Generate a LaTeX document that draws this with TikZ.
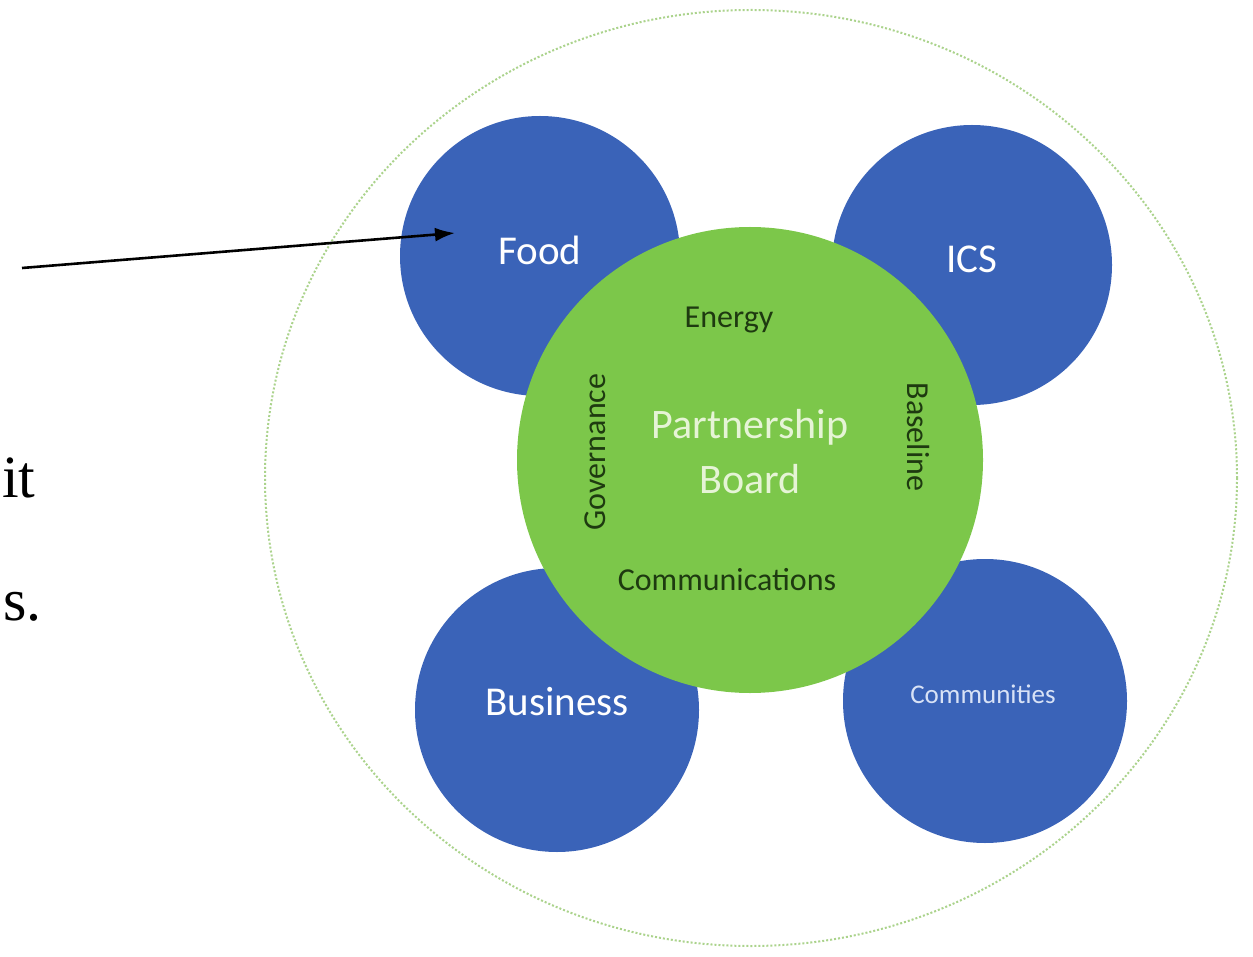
\documentclass[tikz,border=0pt]{standalone}
\usepackage{fontspec}
\setmainfont{Liberation Serif}
\newfontfamily\calfam{Carlito}
\usetikzlibrary{arrows.meta}
\definecolor{cblue}{HTML}{3A63B8}
\definecolor{cgreen}{HTML}{7CC74A}
\definecolor{dgreen}{HTML}{1E3A10}
\definecolor{lgreen}{HTML}{E6F4D6}
\definecolor{lblue}{HTML}{D8E2F6}
\definecolor{ring}{HTML}{ABD38C}
\begin{document}
\begin{tikzpicture}[x=1pt,y=-1pt,
  topic/.style={circle,fill=cblue,minimum size=#1,inner sep=0pt},
  board/.style={circle,fill=cgreen,minimum size=466pt,inner sep=0pt},
  wlabel/.style={font=\calfam\fontsize{41}{44}\selectfont,text=white},
  glabel/.style={font=\calfam\fontsize{32}{34}\selectfont,text=dgreen},
  ]
\useasboundingbox (0,0) rectangle (1253,957);
\clip (0,0) rectangle (1253,957);
% outer dotted ring
\draw[ring,line width=2pt,dotted] (751,478) ellipse [x radius=486, y radius=468];
% blue circles
\node[topic=280pt] (food) at (540,256) {};
\node[topic=280pt] (ics) at (972,265) {};
\node[topic=284pt] (business) at (557,710) {};
\node[topic=284pt] (communities) at (985,701) {};
% green board
\node[board] (board) at (750,460) {};
% labels
\node[wlabel] (tfood) at (540,250) {Food};
\node[wlabel] (tics) at (972,259) {ICS};
\node[wlabel] (tbus) at (557,702) {Business};
\node[font=\calfam\fontsize{27}{29}\selectfont,text=lblue] (tcom) at (983,694) {Communities};
\node[font=\calfam\fontsize{42}{55}\selectfont,text=lgreen,align=center] (tpb) at (750,452) {Partnership\\Board};
\node[glabel] (tenergy) at (729,320) {Energy};
\node[glabel,rotate=90] (tgov) at (595,452) {Governance};
\node[glabel,rotate=-90] (tbase) at (918,437) {Baseline};
\node[glabel] (tcomm) at (727,580) {Communications};
% left text fragments
\node[font=\fontsize{60}{66}\selectfont,anchor=base west,inner sep=0pt] (it) at (2,497) {it};
\node[font=\fontsize{60}{66}\selectfont,anchor=base west,inner sep=0pt] (ss) at (3,620) {s.};
% arrow
\coordinate (astart) at (22,268);
\draw[line width=2.6pt,-{Latex[length=20pt,width=14pt]}] (astart) -- (455,233);
\end{tikzpicture}
\end{document}
